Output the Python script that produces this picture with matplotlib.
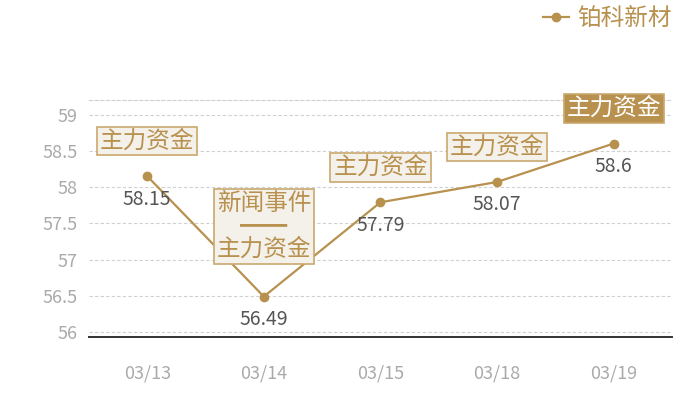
import matplotlib
matplotlib.use("Agg")
import matplotlib.pyplot as plt

plt.rcParams['font.family'] = ['Noto Sans CJK SC', 'DejaVu Sans']

# data
dates = ['03/13', '03/14', '03/15', '03/18', '03/19']
prices = [58.15, 56.49, 57.79, 58.07, 58.6]
events = ['主力资金', '新闻事件\n━━\n主力资金', '主力资金', '主力资金', '主力资金']
series_name = '铂科新材'

gold = '#b8914f'
fig = plt.figure(figsize=(7, 4), dpi=100)
ax = fig.add_axes([0.127, 0.157, 0.833, 0.593])

x = list(range(len(dates)))
ax.plot(x, prices, color=gold, lw=1.6, marker='o', ms=6, label=series_name)

ax.set_xlim(-0.5, 4.5)
ax.set_ylim(55.93, 59.2)
ax.set_yticks([56, 56.5, 57, 57.5, 58, 58.5, 59])
ax.set_yticklabels(['56', '56.5', '57', '57.5', '58', '58.5', '59'])
ax.set_xticks(x)
ax.set_xticklabels(dates)
ax.tick_params(axis='both', length=0, colors='#aaaaaa', labelsize=13)
ax.tick_params(axis='x', pad=20)
ax.tick_params(axis='y', pad=8)
ax.grid(axis='y', ls=(0, (3, 2)), color='#d0d0d0', lw=0.8)
for s in ['left', 'right']:
    ax.spines[s].set_visible(False)
ax.spines['top'].set_linestyle((0, (3, 2)))
ax.spines['top'].set_color('#d0d0d0')
ax.spines['top'].set_linewidth(0.8)
ax.spines['bottom'].set_color('#333333')
ax.spines['bottom'].set_linewidth(1.4)

# value labels
for i, v in enumerate(prices):
    ax.annotate('%g' % v, (i, v), xytext=(0, -23), textcoords='offset pixels',
                ha='center', va='center', fontsize=14, color='#555555')

# event boxes
for i, (v, e) in enumerate(zip(prices, events)):
    last = i == len(prices) - 1
    dy = 70 if '\n' in e else 35
    ax.annotate(e, (i, v), xytext=(0, dy), textcoords='offset pixels',
                ha='center', va='center', fontsize=17, linespacing=1.0,
                color='white' if last else gold,
                bbox=dict(boxstyle='square,pad=0.12',
                          fc=gold if last else '#f4f0ea',
                          ec='#c9a86e', lw=1.2))

fig.legend(loc='upper right', bbox_to_anchor=(0.99, 1.035), frameon=False,
           fontsize=17, labelcolor=gold, handlelength=1.1, handletextpad=0.35)

fig.savefig('out.png', dpi=100)
